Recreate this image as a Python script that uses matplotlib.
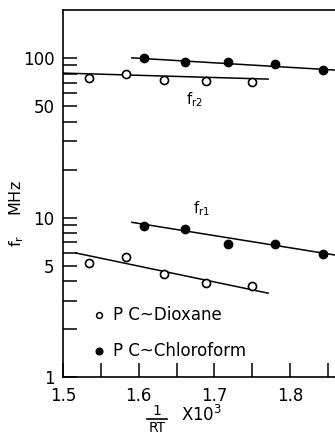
import numpy as np
import matplotlib.pyplot as plt
from matplotlib.ticker import FixedLocator, NullFormatter
from matplotlib.lines import Line2D

# data
diox_x = [1.534, 1.583, 1.633, 1.689, 1.750]
diox_fr2 = [75, 79.5, 73, 72, 71]
diox_fr1 = [5.2, 5.65, 4.4, 3.9, 3.7]
chlo_x = [1.607, 1.661, 1.718, 1.780, 1.843]
chlo_fr2 = [100, 95, 94, 91.5, 84]
chlo_fr1 = [8.8, 8.5, 6.85, 6.85, 5.9]

# fitted lines (end points)
diox_fr2_line = ([1.50, 1.771], [80.5, 73.8])
diox_fr1_line = ([1.517, 1.771], [6.0, 3.36])
chlo_fr2_line = ([1.591, 1.87], [100.3, 83.5])
chlo_fr1_line = ([1.591, 1.87], [9.34, 5.72])

plt.rcParams['font.family'] = ['DejaVu Sans']
fig = plt.figure(figsize=(3.35, 4.36), dpi=100)
ax = fig.add_axes([0.188, 0.135, 0.836, 0.842])

for lx, ly in [diox_fr2_line, diox_fr1_line, chlo_fr2_line, chlo_fr1_line]:
    ax.plot(lx, ly, color='black', lw=1.1, zorder=1)

ax.plot(diox_x, diox_fr2, 'o', mfc='white', mec='black', mew=1.2, ms=5.8, zorder=2)
ax.plot(diox_x, diox_fr1, 'o', mfc='white', mec='black', mew=1.2, ms=5.8, zorder=2)
ax.plot(chlo_x, chlo_fr2, 'o', mfc='black', mec='black', ms=6, zorder=2)
ax.plot(chlo_x, chlo_fr1, 'o', mfc='black', mec='black', ms=6, zorder=2)

ax.set_yscale('log')
ax.set_xlim(1.5, 1.87)
ax.set_ylim(1, 200)

ax.yaxis.set_major_locator(FixedLocator([1, 5, 10, 50, 100]))
ax.set_yticklabels(['1', '5', '10', '50', '100'])
minor = [2, 3, 4, 6, 7, 8, 9, 20, 30, 40, 60, 70, 80, 90]
ax.yaxis.set_minor_locator(FixedLocator(minor))
ax.yaxis.set_minor_formatter(NullFormatter())

ax.xaxis.set_major_locator(FixedLocator([1.5, 1.6, 1.7, 1.8]))
ax.set_xticklabels(['1.5', '1.6', '1.7', '1.8'])
ax.xaxis.set_minor_locator(FixedLocator([1.55, 1.65, 1.75, 1.85]))

ax.tick_params(axis='both', which='both', direction='in', length=10, width=1.1,
               labelsize=12)
ax.tick_params(axis='y', pad=6)
ax.tick_params(axis='x', pad=7)
ax.spines['right'].set_visible(False)
for s in ['left', 'bottom', 'top']:
    ax.spines[s].set_linewidth(1.2)

ax.text(1.662, 51, r'f$_{\mathregular{r2}}$', fontsize=10.5)
ax.text(1.672, 10.6, r'f$_{\mathregular{r1}}$', fontsize=10.5)

# legend drawn by hand
ax.plot([1.547], [2.45], 'o', mfc='white', mec='black', mew=1.1, ms=4.2, clip_on=False)
ax.text(1.566, 2.45, 'P C~Dioxane', fontsize=12, va='center')
ax.plot([1.547], [1.46], 'o', mfc='black', mec='black', ms=4.8, clip_on=False)
ax.text(1.566, 1.46, 'P C~Chloroform', fontsize=12, va='center')

fig.text(0.05, 0.51, r'f$_{\mathregular{r}}$    MHz', rotation=90, fontsize=11.5,
         ha='center', va='center')
# x label: 1 / RT drawn as a stacked fraction, then X10^3
fig.text(0.468, 0.058, '1', fontsize=10, ha='center', va='center')
fig.add_artist(Line2D([0.438, 0.498], [0.040, 0.040], color='black', lw=1.2,
                      transform=fig.transFigure))
fig.text(0.468, 0.018, 'RT', fontsize=10, ha='center', va='center')
fig.text(0.54, 0.048, r'X10$^3$', fontsize=12, ha='left', va='center')

fig.savefig('out.png', dpi=100)
